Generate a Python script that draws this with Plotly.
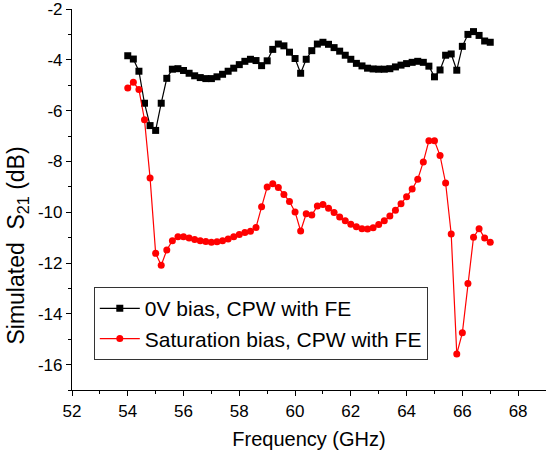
import plotly.graph_objects as go

freq = [round(54.0 + 0.2 * i, 1) for i in range(66)]

s21_0v = [
    -3.84, -3.97, -4.45, -5.71, -6.59, -6.78, -5.71, -4.73, -4.37, -4.35,
    -4.42, -4.53, -4.63, -4.70, -4.74, -4.74, -4.67, -4.57, -4.45, -4.33,
    -4.19, -4.06, -3.98, -4.03, -4.23, -4.04, -3.59, -3.38, -3.45, -3.70,
    -3.95, -4.53, -3.98, -3.64, -3.38, -3.31, -3.39, -3.52, -3.66, -3.82,
    -3.98, -4.14, -4.24, -4.33, -4.36, -4.37, -4.37, -4.35, -4.28, -4.21,
    -4.15, -4.10, -4.06, -4.10, -4.25, -4.67, -4.40, -3.82, -3.77, -4.41,
    -3.47, -3.00, -2.89, -3.04, -3.26, -3.31,
]

s21_sat = [
    -5.11, -4.88, -5.17, -6.36, -8.65, -11.62, -12.09, -11.49, -11.12, -10.97,
    -10.97, -11.02, -11.07, -11.12, -11.15, -11.18, -11.16, -11.12, -11.06, -10.97,
    -10.88, -10.80, -10.75, -10.60, -9.79, -9.01, -8.88, -9.03, -9.30, -9.58,
    -9.99, -10.74, -10.06, -10.11, -9.76, -9.70, -9.84, -10.01, -10.19, -10.34,
    -10.47, -10.57, -10.65, -10.66, -10.61, -10.48, -10.34, -10.15, -9.92, -9.67,
    -9.39, -9.09, -8.70, -8.02, -7.19, -7.19, -7.77, -8.85, -10.86, -15.58,
    -14.75, -12.81, -10.99, -10.65, -11.02, -11.18,
]

x_ticks = [52, 54, 56, 58, 60, 62, 64, 66, 68]
x_ticklabels = ["52", "54", "56", "58", "60", "62", "64", "66", "68"]
y_ticks = [-2, -4, -6, -8, -10, -12, -14, -16]
y_ticklabels = ["-2", "-4", "-6", "-8", "-10", "-12", "-14", "-16"]

FONT = "Arial, Liberation Sans, sans-serif"

fig = go.Figure()
fig.add_trace(go.Scatter(
    x=freq, y=s21_0v, mode="lines+markers", name="0V bias, CPW with FE",
    line=dict(color="black", width=1.2),
    marker=dict(symbol="square", size=7, color="black"),
))
fig.add_trace(go.Scatter(
    x=freq, y=s21_sat, mode="lines+markers", name="Saturation bias, CPW with FE",
    line=dict(color="#ff0000", width=1.2),
    marker=dict(symbol="circle", size=7, color="#ff0000"),
))

axis_common = dict(
    showline=True, linecolor="black", linewidth=1.2, showgrid=False, zeroline=False,
    ticks="outside", ticklen=5, tickwidth=1.2, tickcolor="black",
    tickfont=dict(family=FONT, size=17, color="black"),
    minor=dict(ticks="outside", ticklen=3, tickwidth=1.2, tickcolor="black", dtick=1),
    mirror=False, ticklabeloverflow="allow",
)

fig.update_xaxes(
    range=[52, 69], tickmode="array", tickvals=x_ticks, ticktext=x_ticklabels,
    title=dict(text="Frequency (GHz)", font=dict(family=FONT, size=20, color="black"), standoff=12),
    automargin=False,
    **axis_common,
)
fig.update_yaxes(
    range=[-17, -2], tickmode="array", tickvals=y_ticks, ticktext=y_ticklabels,
    automargin=False,
    **axis_common,
)

fig.add_annotation(
    text="Simulated&nbsp;&nbsp;S<sub>21</sub> (dB)",
    xref="paper", yref="paper", x=-0.114, y=0.379,
    xanchor="center", yanchor="middle", textangle=-90, showarrow=False,
    font=dict(family=FONT, size=23, color="black"),
)

fig.update_layout(
    width=546, height=459,
    margin=dict(l=72, r=0, t=9, b=69),
    paper_bgcolor="white", plot_bgcolor="white",
    showlegend=True,
    legend=dict(
        x=0.046, y=0.27, xanchor="left", yanchor="top",
        bgcolor="white", bordercolor="#333333", borderwidth=1,
        font=dict(family=FONT, size=21, color="black"),
        tracegroupgap=0, itemwidth=40,
    ),
)

fig.write_html("out.html")
